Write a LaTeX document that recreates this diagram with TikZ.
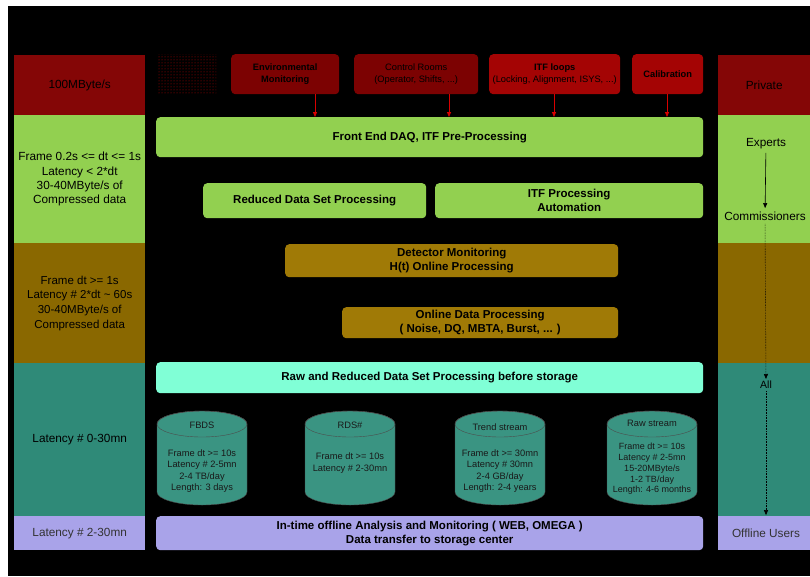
\documentclass[tikz,border=0pt]{standalone}
\usepackage{fontspec}
\setmainfont{Liberation Sans}
\usepackage{tikz}
\usetikzlibrary{arrows.meta,patterns}

\definecolor{bandred}{HTML}{840606}
\definecolor{srcdark}{HTML}{7C0202}
\definecolor{srcred}{HTML}{A40404}
\definecolor{lime}{HTML}{92D050}
\definecolor{olive}{HTML}{8A6800}
\definecolor{ochre}{HTML}{A07A06}
\definecolor{sea}{HTML}{2F8A78}
\definecolor{cylfill}{HTML}{3A9482}
\definecolor{aqua}{HTML}{80FFD6}
\definecolor{lavender}{HTML}{A9A3E9}

% storage cylinder, centred at x = #1
\newcommand{\storecyl}[1]{%
  \filldraw[fill=cylfill,draw=black!70] (#1-45,424) -- (#1-45,492)
    arc[start angle=180,end angle=0,x radius=45,y radius=13] -- (#1+45,424)
    arc[start angle=0,end angle=-180,x radius=45,y radius=13];
  \draw[black!70] (#1,424) ellipse[x radius=45,y radius=13];}

\begin{document}
\begin{tikzpicture}[x=1pt,y=-1pt,
  band/.style={rectangle,inner sep=0,anchor=north west,align=center,font=\fontsize{11.8}{14.2}\selectfont},
  box/.style={rectangle,rounded corners=4pt,inner sep=0,anchor=north west,align=center,font=\bfseries\fontsize{11.5}{14}\selectfont},
  src/.style={box,font=\fontsize{9.3}{12}\selectfont,text=black},
  dbtext/.style={align=center,inner sep=1pt,font=\fontsize{9.3}{11.3}\selectfont,text=black!90},
  feed/.style={-{Triangle[length=5pt,width=4pt]},red!85!black,thick},
  flow/.style={-{Triangle[length=5pt,width=4pt]},black,semithick}]

\path[use as bounding box] (0,0) rectangle (810,576);
\fill[black] (8,6) rectangle (810,576);

% left column
\node[band,fill=bandred,minimum width=131pt,minimum height=60pt,text=black] (rate) at (14,55) {100MByte/s};
\node[band,fill=lime,minimum width=131pt,minimum height=128pt] (fast) at (14,115)
  {Frame 0.2s <= dt <= 1s\\Latency < 2*dt\\30-40MByte/s of\\Compressed data};
\node[band,fill=olive,minimum width=131pt,minimum height=120pt,text=black,font=\fontsize{11.5}{14.6}\selectfont] (slow) at (14,243)
  {Frame dt >= 1s\\Latency \# 2*dt \textasciitilde{} 60s\\30-40MByte/s of\\Compressed data};
\node[band,fill=sea,minimum width=131pt,minimum height=153pt,text=black] (store) at (14,363) {Latency \# 0-30mn};
\node[band,fill=lavender,minimum width=131pt,minimum height=34pt,text=black!80] (offl) at (14,516) {Latency \# 2-30mn};

% right column
\node[band,fill=bandred,minimum width=92pt,minimum height=60pt,text=black] (private) at (718,55) {Private};
\node[band,fill=lime,minimum width=92pt,minimum height=128pt] (rgreen) at (718,115) {};
\node[band,fill=olive,minimum width=92pt,minimum height=120pt] (rolive) at (718,243) {};
\node[band,fill=sea,minimum width=92pt,minimum height=153pt] (rsea) at (718,363) {};
\node[band,fill=lavender,minimum width=92pt,minimum height=34pt] (rlav) at (718,516) {};

\node[font=\fontsize{11.8}{14}\selectfont] (experts) at (766,144) {Experts};
\node[font=\fontsize{11.8}{14}\selectfont] (comm) at (765,216) {Commissioners};
\node[font=\fontsize{10.5}{12}\selectfont,inner sep=2pt] (all) at (766,385) {All};
\node[font=\fontsize{11.8}{14}\selectfont,text=black!80] (offline) at (766,533) {Offline Users};

\draw[flow] (experts) -- (comm);
\draw[flow,densely dotted] (comm) -- (all);
\draw[flow,densely dotted,shorten >=10pt] (all) -- (offline);

% sources
\node[rectangle,anchor=north west,minimum width=59pt,minimum height=40pt,pattern=dots,pattern color=red!75!black] (spare) at (157,54) {};
\node[src,fill=srcdark,minimum width=108pt,minimum height=40pt] (mon) at (231,54) {\textbf{Environmental}\\\textbf{Monitoring}};
\node[src,fill=srcdark,minimum width=124pt,minimum height=40pt] (ctrl) at (354,54) {Control Rooms\\(Operator, Shifts, ...)};
\node[src,fill=srcred,minimum width=131pt,minimum height=40pt] (loops) at (489,54) {\textbf{ITF loops}\\(Locking, Alignment, ISYS, ...)};
\node[src,fill=srcred,minimum width=71pt,minimum height=40pt] (calib) at (632,54) {\textbf{Calibration}};

% processing
\node[box,fill=lime,minimum width=547pt,minimum height=40pt] (fe) at (156,117) {Front End DAQ, ITF Pre-Processing};
\node[box,fill=lime,minimum width=223pt,minimum height=35pt] (rds) at (203,183) {Reduced Data Set Processing};
\node[box,fill=lime,minimum width=268pt,minimum height=35pt] (auto) at (435,183) {ITF Processing\\Automation};
\node[box,fill=ochre,minimum width=333pt,minimum height=33pt,text=black] (detmon) at (285,244) {Detector Monitoring\\H(t) Online Processing};
\node[box,fill=ochre,minimum width=276pt,minimum height=31pt,text=black] (odp) at (342,307) {Online Data Processing\\( Noise, DQ, MBTA, Burst, ... )};
\node[box,fill=aqua,minimum width=547pt,minimum height=31pt] (raw) at (156,362) {Raw and Reduced Data Set Processing before storage};
\node[box,fill=lavender,minimum width=547pt,minimum height=34pt] (ana) at (156,516)
  {In-time offline Analysis and Monitoring ( WEB, OMEGA )\\Data transfer to storage center};

\foreach \x/\name in {315/t1,449/t2,554/t3,667/t4}
  \coordinate (\name) at (\x,0);
\draw[feed] (t1 |- mon.south) -- (t1 |- fe.north);
\draw[feed] (t2 |- ctrl.south) -- (t2 |- fe.north);
\draw[feed] (t3 |- loops.south) -- (t3 |- fe.north);
\draw[feed] (t4 |- calib.south) -- (t4 |- fe.north);

% storage
\storecyl{202}
\storecyl{350}
\storecyl{500}
\storecyl{652}
\node[dbtext] (fbds) at (202,425) {FBDS};
\node[dbtext] (fbdsinfo) at (202,471) {Frame dt >= 10s\\Latency \# 2-5mn\\2-4 TB/day\\Length: 3 days};
\node[dbtext] (rdsdb) at (350,425) {RDS\#};
\node[dbtext] (rdsinfo) at (350,463) {Frame dt >= 10s\\Latency \# 2-30mn};
\node[dbtext] (trend) at (500,427) {Trend stream};
\node[dbtext] (trendinfo) at (500,471) {Frame dt >= 30mn\\Latency \# 30mn\\2-4 GB/day\\Length: 2-4 years};
\node[dbtext] (rawdb) at (652,423) {Raw stream};
\node[dbtext,font=\fontsize{9}{10.8}\selectfont] (rawinfo) at (652,469) {Frame dt >= 10s\\Latency \# 2-5mn\\15-20MByte/s\\1-2 TB/day\\Length: 4-6 months};
\end{tikzpicture}
\end{document}
